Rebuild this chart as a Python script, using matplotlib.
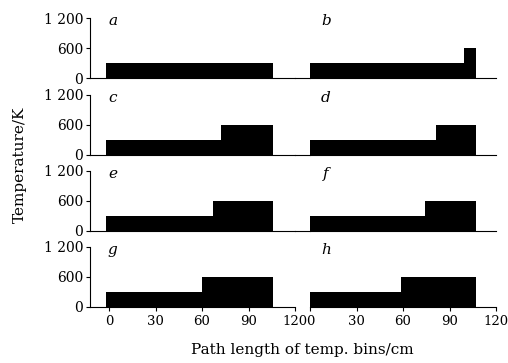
import matplotlib
matplotlib.use("Agg")
import matplotlib.pyplot as plt
from matplotlib.lines import Line2D

plt.rcParams['font.family'] = ['DejaVu Serif']

panel_labels = ['a', 'b', 'c', 'd', 'e', 'f', 'g', 'h']
# step edges (cm) and temperatures (K) per panel
edges = [
    [-2, 105.5],
    [0, 99.5, 107],
    [-2, 72.5, 105.5],
    [0, 81.5, 107],
    [-2, 67, 105.5],
    [0, 74, 107],
    [-2, 60, 105.5],
    [0, 58.5, 107],
]
temps = [
    [300],
    [300, 600],
    [300, 600],
    [300, 600],
    [300, 600],
    [300, 600],
    [300, 600],
    [300, 600],
]
xticks = [0, 30, 60, 90, 120]
yticks = [0, 600, 1200]
ytick_labels = ['0', '600', '1 200']

W, H = 508, 363
fig = plt.figure(figsize=(W / 100, H / 100), dpi=100)

row_bottoms = [78, 155, 231, 307]
row_h = 60
left_x0, left_x1 = 90, 295
right_x0, right_x1 = 310, 496

for i in range(8):
    r, c = divmod(i, 2)
    yb = row_bottoms[r]
    if c == 0:
        x0, x1 = left_x0, left_x1
    else:
        x0, x1 = right_x0, right_x1
    ax = fig.add_axes([x0 / W, 1 - yb / H, (x1 - x0) / W, row_h / H])
    ax.stairs(temps[i], edges[i], fill=True, color='black', baseline=0)
    ax.set_ylim(0, 1200)
    if c == 0:
        ax.set_xlim(-12.3, 120)
    else:
        ax.set_xlim(0, 120)
    ax.spines['top'].set_visible(False)
    ax.spines['right'].set_visible(False)
    ax.spines['bottom'].set_linewidth(0.8)
    ax.spines['left'].set_linewidth(0.8)
    if c == 0:
        ax.set_yticks(yticks)
        ax.set_yticklabels(ytick_labels, fontsize=10)
        ax.tick_params(axis='y', length=3, width=0.8, pad=2)
    else:
        ax.spines['left'].set_visible(False)
        ax.set_yticks([])
        if r < 3:
            # baseline continues across the gap between the columns
            yf = 1 - yb / H
            fig.add_artist(Line2D([left_x1 / W, right_x0 / W], [yf, yf],
                                  color='black', lw=0.8,
                                  transform=fig.transFigure))
    if r == 3:
        ax.set_xticks(xticks)
        ax.set_xticklabels([str(v) for v in xticks], fontsize=9.5)
        ax.tick_params(axis='x', length=3, width=0.8, pad=3)
    else:
        ax.set_xticks([])
    tx = 0.11 if c == 0 else 0.085
    ax.text(tx, 0.95, panel_labels[i], transform=ax.transAxes, fontsize=11,
            style='italic', ha='center', va='center')

fig.text(20 / W, 1 - 165 / H, 'Temperature/K', rotation=90, fontsize=11,
         ha='center', va='center')
fig.text(302 / W, 1 - 350 / H, 'Path length of temp. bins/cm', fontsize=11,
         ha='center', va='center')

fig.savefig('out.png', dpi=100)
